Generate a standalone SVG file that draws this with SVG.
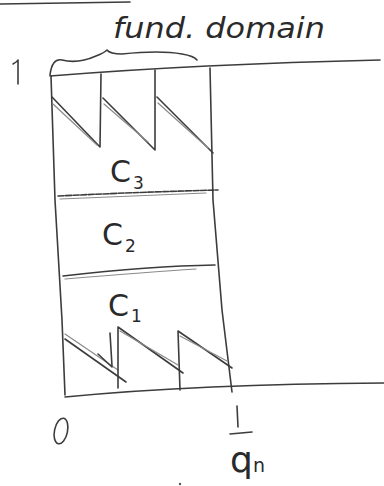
<svg xmlns="http://www.w3.org/2000/svg" width="384" height="486" viewBox="0 0 384 486">
<style>
.s{fill:none;stroke:#3c3c3c;stroke-width:1.6;stroke-linecap:round;stroke-linejoin:round}
.l{fill:none;stroke:#8a8a8a;stroke-width:1.2;stroke-linecap:round}
.t{font-family:"DejaVu Sans","Liberation Sans",sans-serif;fill:#2a2a2a}
</style>
<rect width="384" height="486" fill="#ffffff"/>
<g id="frame">
<path class="s" d="M0 4 L130 2"/>
<path class="s" d="M50 76 Q200 64 380 60"/>
<path class="s" d="M51 76 L55 200 L62 320 L65 395"/>
<path class="s" d="M210 68 L213 200 L222 310 L232 392"/>
<path class="s" d="M65 397 Q200 384 384 383"/>
</g>
<g id="brace">
<path class="s" d="M50 75 Q52 58 62 60 Q78 64 96 56 Q104 53 107 50 Q110 54 122 54 Q160 50 182 54 Q194 56 197 60"/>
</g>
<g id="top-teeth">
<path class="s" d="M52 97 L100 147 L101 74"/>
<path class="l" d="M53 104 L97 145"/>
<path class="s" d="M103 98 L155 150 L155 70"/>
<path class="l" d="M104 104 L148 142"/>
<path class="s" d="M157 97 L213 153"/>
<path class="l" d="M158 103 L208 148"/>
</g>
<g id="c3">
<text class="t" x="110" y="182" font-size="30">C</text>
<text class="t" x="133" y="189" font-size="17">3</text>
</g>
<g id="line32">
<path class="s" d="M58 196 Q140 192 218 190" stroke-dasharray="6 1.5"/>
<path class="l" d="M60 199 Q140 196 206 193"/>
</g>
<g id="c2">
<text class="t" x="102" y="245" font-size="30">C</text>
<text class="t" x="125" y="252" font-size="17">2</text>
</g>
<g id="line21">
<path class="s" d="M63 276 Q150 266 215 265"/>
<path class="l" d="M65 279 Q150 272 196 269"/>
</g>
<g id="c1">
<text class="t" x="108" y="316" font-size="30">C</text>
<text class="t" x="131" y="322" font-size="17">1</text>
</g>
<g id="bottom-teeth">
<path class="s" d="M65 339 L126 382"/>
<path class="l" d="M65 334 L118 370"/>
<path class="s" d="M118 388 L118 327 L183 373"/>
<path class="l" d="M120 331 L178 365"/>
<path class="s" d="M180 390 L178 331 L232 368"/>
<path class="l" d="M180 336 L227 361"/>
<path class="s" d="M110 333 L112 366 M98 354 L112 367"/>
</g>
<g id="labels">
<path class="s" d="M13 64 Q17 62 18 60 L18 84"/>
<ellipse class="s" cx="61" cy="431" rx="6.5" ry="13" transform="rotate(12 61 431)"/>
<path class="s" d="M237 406 L238 427 M230 434 L252 432"/>
<text class="t" x="230" y="472" font-size="36">q</text>
<text class="t" x="253" y="472" font-size="19">n</text>
<circle cx="180" cy="484" r="1.2" fill="#555"/>
<text class="t" x="113" y="38" font-size="28" textLength="212" lengthAdjust="spacingAndGlyphs" font-style="italic">fund. domain</text>
</g>
</svg>
